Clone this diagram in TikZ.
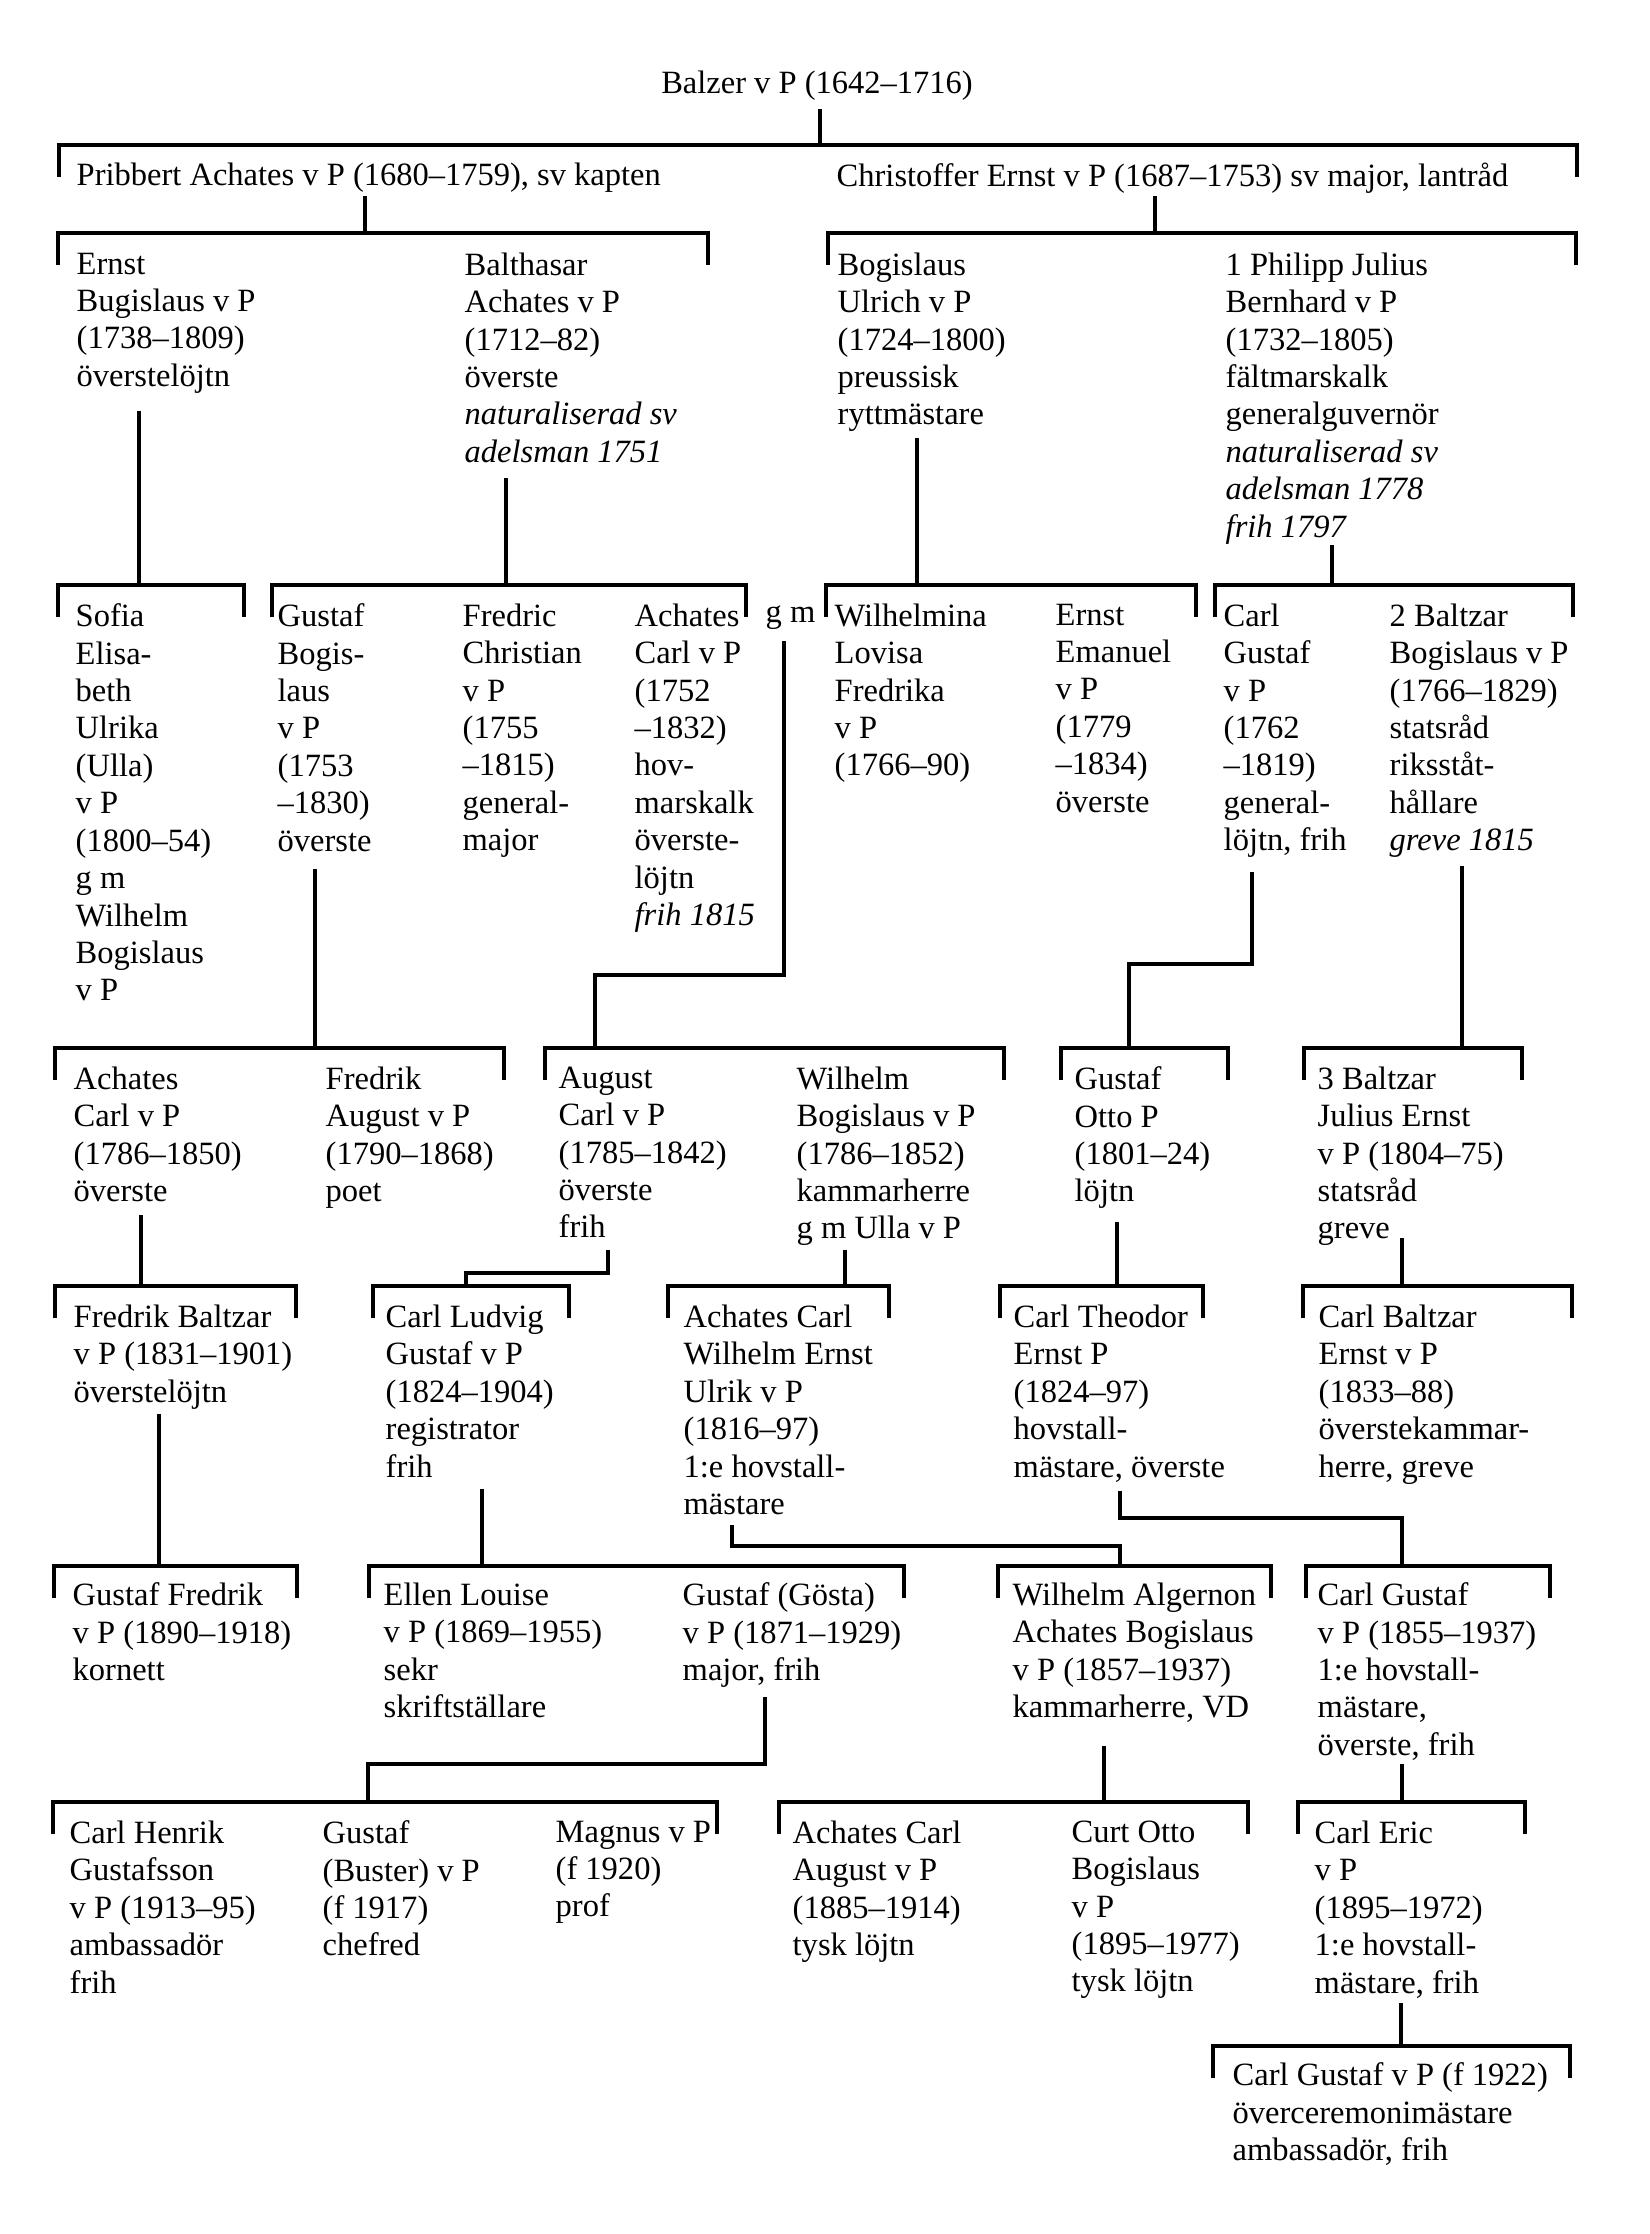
\documentclass[tikz,border=0pt]{standalone}
\usepackage{fontspec}
\setmainfont{Liberation Serif}
\begin{document}
\begin{tikzpicture}[x=0.1mm,y=-0.1mm]
\tikzset{
  person/.style={anchor=north west,inner sep=0pt,align=left,
    font=\fontsize{9.25}{10.65}\selectfont},
  bar/.style={line width=0.95pt}
}
\useasboundingbox (0,0) rectangle (1650,2234);

% generation 0 and 1
\node[person,anchor=north] (balzer) at (817,70) {Balzer v P (1642–1716)};
\node[person] (pribbert) at (76,162) {Pribbert Achates v P (1680–1759), sv kapten};
\node[person] (christoffer) at (836,162) {Christoffer Ernst v P (1687–1753) sv major, lantråd};

% generation 2
\node[person] (ernst) at (76,252) {Ernst\\Bugislaus v P\\(1738–1809)\\överstelöjtn};
\node[person] (balthasar) at (464,252) {Balthasar\\Achates v P\\(1712–82)\\överste\\\textit{naturaliserad sv}\\\textit{adelsman 1751}};
\node[person] (bogislaus) at (837,252) {Bogislaus\\Ulrich v P\\(1724–1800)\\preussisk\\ryttmästare};
\node[person] (philipp) at (1225,252) {1 Philipp Julius\\Bernhard v P\\(1732–1805)\\fältmarskalk\\generalguvernör\\\textit{naturaliserad sv}\\\textit{adelsman 1778}\\\textit{frih 1797}};

% generation 3
\node[person] (sofia) at (75,603) {Sofia\\Elisa-\\beth\\Ulrika\\(Ulla)\\v P\\(1800–54)\\g m\\Wilhelm\\Bogislaus\\v P};
\node[person] (gustafB) at (277,603) {Gustaf\\Bogis-\\laus\\v P\\(1753\\–1830)\\överste};
\node[person] (fredric) at (462,603) {Fredric\\Christian\\v P\\(1755\\–1815)\\general-\\major};
\node[person] (achates) at (634,603) {Achates\\Carl v P\\(1752\\–1832)\\hov-\\marskalk\\överste-\\löjtn\\\textit{frih 1815}};
\node[person] (gm) at (765,605) {g m};
\node[person] (wilhelmina) at (834,603) {Wilhelmina\\Lovisa\\Fredrika\\v P\\(1766–90)};
\node[person] (ernstE) at (1055,603) {Ernst\\Emanuel\\v P\\(1779\\–1834)\\överste};
\node[person] (carlG) at (1223,603) {Carl\\Gustaf\\v P\\(1762\\–1819)\\general-\\löjtn, frih};
\node[person] (baltzarB) at (1389,603) {2 Baltzar\\Bogislaus v P\\(1766–1829)\\statsråd\\riksståt-\\hållare\\\textit{greve 1815}};

% generation 4
\node[person] (achatesC) at (73,1066) {Achates\\Carl v P\\(1786–1850)\\överste};
\node[person] (fredrikA) at (325,1066) {Fredrik\\August v P\\(1790–1868)\\poet};
\node[person] (augustC) at (558,1066) {August\\Carl v P\\(1785–1842)\\överste\\frih};
\node[person] (wilhelmB) at (796,1066) {Wilhelm\\Bogislaus v P\\(1786–1852)\\kammarherre\\g m Ulla v P};
\node[person] (gustafO) at (1074,1066) {Gustaf\\Otto P\\(1801–24)\\löjtn};
\node[person] (baltzarJ) at (1317,1066) {3 Baltzar\\Julius Ernst\\v P (1804–75)\\statsråd\\greve};

% generation 5
\node[person] (fredrikB) at (73,1304) {Fredrik Baltzar\\v P (1831–1901)\\överstelöjtn};
\node[person] (carlL) at (385,1304) {Carl Ludvig\\Gustaf v P\\(1824–1904)\\registrator\\frih};
\node[person] (achatesW) at (683,1304) {Achates Carl\\Wilhelm Ernst\\Ulrik v P\\(1816–97)\\1:e hovstall-\\mästare};
\node[person] (carlT) at (1013,1304) {Carl Theodor\\Ernst P\\(1824–97)\\hovstall-\\mästare, överste};
\node[person] (carlB) at (1318,1304) {Carl Baltzar\\Ernst v P\\(1833–88)\\överstekammar-\\herre, greve};

% generation 6
\node[person] (gustafF) at (72,1582) {Gustaf Fredrik\\v P (1890–1918)\\kornett};
\node[person] (ellen) at (383,1582) {Ellen Louise\\v P (1869–1955)\\sekr\\skriftställare};
\node[person] (gosta) at (682,1582) {Gustaf (Gösta)\\v P (1871–1929)\\major, frih};
\node[person] (wilhelmA) at (1012,1582) {Wilhelm Algernon\\Achates Bogislaus\\v P (1857–1937)\\kammarherre, VD};
\node[person] (carlGV) at (1317,1582) {Carl Gustaf\\v P (1855–1937)\\1:e hovstall-\\mästare,\\överste, frih};

% generation 7 and 8
\node[person] (carlH) at (69,1820) {Carl Henrik\\Gustafsson\\v P (1913–95)\\ambassadör\\frih};
\node[person] (buster) at (322,1820) {Gustaf\\(Buster) v P\\(f 1917)\\chefred};
\node[person] (magnus) at (555,1820) {Magnus v P\\(f 1920)\\prof};
\node[person] (achatesA) at (792,1820) {Achates Carl\\August v P\\(1885–1914)\\tysk löjtn};
\node[person] (curt) at (1071,1820) {Curt Otto\\Bogislaus\\v P\\(1895–1977)\\tysk löjtn};
\node[person] (carlE) at (1314,1820) {Carl Eric\\v P\\(1895–1972)\\1:e hovstall-\\mästare, frih};
\node[person] (carlGF) at (1232,2062) {Carl Gustaf v P (f 1922)\\överceremonimästare\\ambassadör, frih};

% sibling brackets, named after the parent
\foreach \n/\xa/\xb/\yb in {balzer/59/1577/145, pribbert/58/708/233,
    christoffer/828/1576/233, ernst/58/244/585, balthasar/272/746/585,
    bogislaus/826/1196/585, philipp/1215/1573/585, gustafB/55/504/1048,
    gm/545/1004/1048, carlG/1061/1228/1048, baltzarB/1304/1522/1048,
    achatesC/55/296/1286, augustC/373/569/1286, wilhelmB/668/889/1286,
    gustafO/1000/1203/1286, baltzarJ/1303/1572/1286, fredrikB/54/297/1566,
    carlL/369/904/1566, achatesW/998/1271/1566, carlT/1306/1550/1566,
    gosta/53/717/1802, wilhelmA/779/1248/1802, carlGV/1298/1525/1802,
    carlE/1213/1570/2046}{
  \coordinate (\n-l) at (\xa,\yb);
  \coordinate (\n-r) at (\xb,\yb);
  \draw[bar] (\n-l) ++(0,32) -- (\n-l) -- (\n-r) -- ++(0,32);
}

% drops from each parent
\foreach \n/\xd/\yd in {balzer/820/109, pribbert/365/196, christoffer/1155/196,
    ernst/139/411, balthasar/506/478, bogislaus/917/438, philipp/1332/545,
    gustafB/315/869, gm/784/641, carlG/1252/872, baltzarB/1462/866,
    achatesC/141/1215, augustC/608/1250, wilhelmB/845/1250, gustafO/1117/1222,
    baltzarJ/1402/1238, fredrikB/159/1414, carlL/482/1489, achatesW/732/1525,
    carlT/1120/1491, gosta/765/1697, wilhelmA/1104/1746, carlGV/1402/1764,
    carlE/1401/2003}
  \coordinate (\n-d) at (\xd,\yd);

\foreach \n in {balzer,pribbert,christoffer,ernst,balthasar,bogislaus,philipp,
    gustafB,baltzarB,achatesC,wilhelmB,gustafO,baltzarJ,fredrikB,carlL,
    wilhelmA,carlGV,carlE}
  \draw[bar] (\n-d) -- (\n-d |- \n-l);

% elbowed drops
\coordinate (gm-k) at (595,975);
\coordinate (carlG-k) at (1129,964);
\coordinate (augustC-k) at (466,1273);
\coordinate (achatesW-k) at (1120,1546);
\coordinate (carlT-k) at (1402,1518);
\coordinate (gosta-k) at (368,1764);
\foreach \n in {gm,carlG,augustC,achatesW,carlT,gosta}
  \draw[bar] (\n-d) |- (\n-k) -- (\n-k |- \n-l);
\end{tikzpicture}
\end{document}
